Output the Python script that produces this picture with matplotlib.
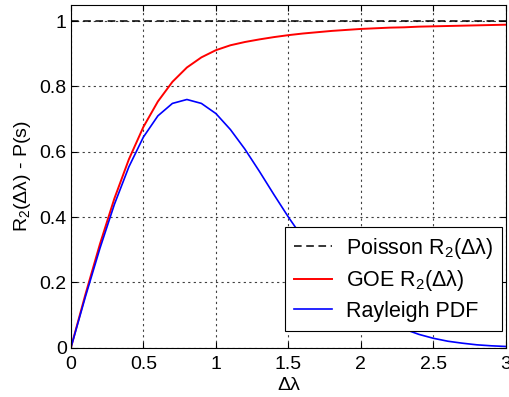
import numpy as np
import matplotlib
matplotlib.use('Agg')
import matplotlib.pyplot as plt

plt.rcParams['font.family'] = ['Liberation Sans', 'DejaVu Sans']
plt.rcParams['mathtext.default'] = 'regular'

# level spacing, step 0.1
spacing = [0.0, 0.1, 0.2, 0.3, 0.4, 0.5, 0.6, 0.7, 0.8, 0.9, 1.0,
           1.1, 1.2, 1.3, 1.4, 1.5, 1.6, 1.7, 1.8, 1.9, 2.0,
           2.1, 2.2, 2.3, 2.4, 2.5, 2.6, 2.7, 2.8, 2.9, 3.0]

poisson_r2 = [1.0] * len(spacing)

goe_r2 = [0.0, 0.163, 0.317, 0.457, 0.577, 0.676, 0.754, 0.814, 0.858, 0.889, 0.911,
          0.926, 0.936, 0.944, 0.951, 0.957, 0.962, 0.966, 0.970, 0.973, 0.976,
          0.978, 0.980, 0.981, 0.983, 0.984, 0.985, 0.986, 0.987, 0.988, 0.989]

rayleigh_pdf = [0.0, 0.156, 0.304, 0.439, 0.554, 0.645, 0.710, 0.748, 0.760, 0.748, 0.717,
                0.668, 0.608, 0.540, 0.469, 0.400, 0.336, 0.277, 0.222, 0.175, 0.136,
                0.103, 0.077, 0.057, 0.041, 0.029, 0.020, 0.014, 0.009, 0.006, 0.004]

fig = plt.figure(figsize=(5.1, 3.97), dpi=100)
ax = fig.add_axes([0.139, 0.124, 0.853, 0.864])

ax.plot(spacing, poisson_r2, color='black', linestyle=(0, (5, 3)), linewidth=1.1,
        label='Poisson R$_2$(Δλ)')
ax.plot(spacing, goe_r2, color='red', linewidth=1.4, label='GOE R$_2$(Δλ)')
ax.plot(spacing, rayleigh_pdf, color='blue', linewidth=1.2, label='Rayleigh PDF')

ax.set_xlim(0, 3)
ax.set_ylim(0, 1.05)
ax.set_xticks([0, 0.5, 1, 1.5, 2, 2.5, 3])
ax.set_xticklabels(['0', '0.5', '1', '1.5', '2', '2.5', '3'])
ax.set_yticks([0, 0.2, 0.4, 0.6, 0.8, 1])
ax.set_yticklabels(['0', '0.2', '0.4', '0.6', '0.8', '1'])
ax.tick_params(direction='in', top=True, right=True, labelsize=14, length=4)
ax.tick_params(axis='x', pad=6)
ax.tick_params(axis='y', pad=3)
ax.grid(True, color='0.25', linestyle=(0, (2, 3)), linewidth=0.8)

ax.set_xlabel('Δλ', fontsize=14, labelpad=3)
ax.set_ylabel('R$_2$(Δλ) - P(s)', fontsize=14, labelpad=5)

leg = ax.legend(loc='lower right', bbox_to_anchor=(502 / 510, 66 / 397),
                bbox_transform=fig.transFigure, fontsize=15.5, fancybox=False,
                framealpha=1, edgecolor='black', borderpad=0.42, labelspacing=0.35,
                handlelength=1.75, handletextpad=0.65, borderaxespad=0)
leg.get_frame().set_linewidth(0.8)

for sp in ax.spines.values():
    sp.set_linewidth(0.8)

fig.savefig('out.png', dpi=100)
